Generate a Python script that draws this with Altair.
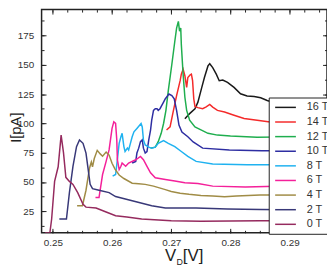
import altair as alt
import pandas as pd

# ---- data (V_D in volts, I in pA) ----
series = ["16 T", "14 T", "12 T", "10 T", "8 T", "6 T", "4 T", "2 T", "0 T"]
colors = ["#1a1a1a", "#f42a2a", "#1fae4e", "#2e2ea2", "#1fb2f0", "#f4209a", "#a08c46", "#383878", "#952a5e"]

v_16 = [0.2723, 0.2731, 0.2740, 0.2745, 0.2751, 0.2756, 0.2762, 0.2765, 0.2770, 0.2776, 0.2781, 0.2787, 0.2795, 0.2806, 0.2817, 0.2828, 0.2840, 0.2851, 0.2862, 0.2878, 0.2895, 0.2910, 0.2920]
i_16 = [104.0, 108.3, 112.5, 118.1, 129.6, 139.1, 149.0, 150.9, 147.6, 142.0, 136.4, 137.0, 134.9, 130.7, 125.2, 123.3, 122.9, 121.8, 119.5, 117.0, 115.0, 114.0, 113.0]

v_14 = [0.2692, 0.2698, 0.2703, 0.2709, 0.2715, 0.2717, 0.2720, 0.2723, 0.2726, 0.2728, 0.2732, 0.2734, 0.2736, 0.2738, 0.2740, 0.2745, 0.2753, 0.2759, 0.2765, 0.2770, 0.2778, 0.2790, 0.2806, 0.2823, 0.2845, 0.2870, 0.2900, 0.2930, 0.2962]
i_14 = [94.3, 97.0, 109.4, 123.7, 136.4, 142.0, 146.2, 140.6, 130.7, 139.1, 141.4, 142.0, 136.4, 121.0, 114.5, 113.4, 112.5, 114.0, 116.2, 113.9, 111.1, 109.7, 106.9, 104.1, 102.7, 101.0, 100.0, 99.0, 98.5]

v_12 = [0.2665, 0.2673, 0.2678, 0.2683, 0.2687, 0.2691, 0.2695, 0.2701, 0.2706, 0.2709, 0.2712, 0.2714, 0.2716, 0.2717, 0.2720, 0.2723, 0.2726, 0.2731, 0.2740, 0.2751, 0.2762, 0.2778, 0.2800, 0.2845, 0.2900, 0.2962]
i_12 = [78.9, 79.7, 84.4, 91.5, 99.9, 111.1, 128.0, 150.4, 170.0, 181.2, 187.0, 178.6, 181.2, 167.3, 142.0, 122.3, 111.1, 102.7, 97.0, 94.3, 91.5, 90.0, 89.2, 88.1, 88.5, 88.4]

v_10 = [0.2634, 0.2640, 0.2642, 0.2645, 0.2648, 0.2651, 0.2653, 0.2656, 0.2659, 0.2662, 0.2665, 0.2667, 0.2670, 0.2673, 0.2676, 0.2678, 0.2681, 0.2684, 0.2687, 0.2690, 0.2692, 0.2696, 0.2701, 0.2705, 0.2709, 0.2713, 0.2718, 0.2728, 0.2737, 0.2753, 0.2798, 0.2853, 0.2962]
i_10 = [66.2, 67.6, 74.7, 78.9, 84.4, 85.9, 78.9, 74.7, 76.0, 85.9, 94.3, 102.7, 111.1, 112.5, 112.5, 111.1, 112.5, 115.3, 118.1, 121.0, 122.3, 125.0, 123.7, 121.0, 111.1, 98.5, 92.6, 88.6, 84.2, 78.9, 77.4, 76.6, 76.6]

v_8 = [0.2601, 0.2606, 0.2609, 0.2612, 0.2615, 0.2617, 0.2620, 0.2622, 0.2626, 0.2628, 0.2631, 0.2634, 0.2637, 0.2642, 0.2649, 0.2651, 0.2653, 0.2656, 0.2662, 0.2667, 0.2673, 0.2678, 0.2687, 0.2695, 0.2706, 0.2717, 0.2728, 0.2742, 0.2770, 0.2828, 0.2895, 0.2962]
i_8 = [55.0, 56.4, 69.0, 83.0, 88.6, 91.5, 80.2, 76.0, 78.9, 77.4, 83.0, 88.6, 92.8, 95.7, 99.9, 97.0, 85.9, 81.6, 79.7, 78.9, 79.7, 83.0, 85.3, 83.0, 80.2, 76.0, 71.8, 67.6, 65.4, 64.8, 64.8, 64.8]

v_6 = [0.2572, 0.2578, 0.2584, 0.2590, 0.2595, 0.2600, 0.2603, 0.2606, 0.2608, 0.2609, 0.2612, 0.2615, 0.2617, 0.2623, 0.2628, 0.2640, 0.2648, 0.2653, 0.2659, 0.2665, 0.2673, 0.2690, 0.2706, 0.2723, 0.2745, 0.2770, 0.2825, 0.2895, 0.2962]
i_6 = [36.8, 36.8, 56.4, 67.6, 77.4, 95.7, 101.3, 100.0, 85.9, 69.0, 60.6, 63.4, 66.2, 63.4, 66.2, 69.0, 71.8, 69.0, 63.4, 57.8, 53.6, 52.2, 50.8, 49.4, 48.8, 46.5, 45.7, 46.7, 46.5]

v_4 = [0.2541, 0.2550, 0.2556, 0.2562, 0.2565, 0.2567, 0.2570, 0.2575, 0.2580, 0.2584, 0.2590, 0.2595, 0.2600, 0.2605, 0.2612, 0.2620, 0.2634, 0.2645, 0.2656, 0.2670, 0.2680, 0.2690, 0.2700, 0.2715, 0.2730, 0.2750, 0.2770, 0.2790, 0.2810, 0.2830, 0.2850, 0.2870, 0.2890, 0.2910, 0.2930, 0.2962]
i_4 = [29.7, 29.8, 43.0, 62.0, 67.0, 63.0, 70.0, 77.0, 74.0, 72.0, 75.5, 73.0, 66.0, 61.0, 56.0, 53.0, 49.0, 48.5, 48.0, 46.5, 45.0, 43.5, 42.0, 40.5, 39.5, 38.5, 38.0, 37.5, 38.0, 38.5, 39.0, 39.0, 39.5, 39.5, 39.0, 38.5]

v_2 = [0.2511, 0.2523, 0.2528, 0.2534, 0.2540, 0.2545, 0.2551, 0.2556, 0.2559, 0.2563, 0.2567, 0.2578, 0.2595, 0.2606, 0.2634, 0.2667, 0.2690, 0.2742, 0.2795, 0.2850, 0.2900, 0.2962]
i_2 = [18.5, 18.5, 41.0, 63.4, 80.2, 85.9, 83.0, 74.7, 63.4, 48.0, 44.4, 43.0, 41.0, 37.6, 34.0, 29.7, 27.8, 27.8, 27.0, 26.5, 26.3, 26.0]

v_0 = [0.2487, 0.2495, 0.2498, 0.2503, 0.2509, 0.2514, 0.2518, 0.2522, 0.2528, 0.2534, 0.2542, 0.2551, 0.2556, 0.2573, 0.2590, 0.2606, 0.2625, 0.2650, 0.2700, 0.2750, 0.2800, 0.2850, 0.2900, 0.2962]
i_0 = [6.7, 6.7, 18.5, 50.5, 63.0, 90.0, 75.0, 54.0, 50.5, 48.0, 41.0, 31.0, 28.6, 27.8, 24.4, 21.3, 20.2, 18.5, 17.0, 16.5, 16.8, 17.0, 17.0, 17.0]

x_major = [0.25, 0.26, 0.27, 0.28, 0.29]
x_minor = [round(0.25 + 0.0025 * k, 4) for k in range(19)]
y_major = [25, 50, 75, 100, 125, 150, 175]
y_minor = [12.5 * k for k in range(1, 16)]

pairs = [(v_16, i_16), (v_14, i_14), (v_12, i_12), (v_10, i_10), (v_8, i_8),
         (v_6, i_6), (v_4, i_4), (v_2, i_2), (v_0, i_0)]
rows = []
for name, (vs, ys) in zip(series, pairs):
    for k, (v, y) in enumerate(zip(vs, ys)):
        rows.append({"V": v, "I": y, "B": name, "k": k})
df = pd.DataFrame(rows)

W, H = 289, 226
FONT = "Liberation Sans"
xs = alt.Scale(domain=[0.2481, 0.2963], nice=False, zero=False)
ys_ = alt.Scale(domain=[6.7, 197.0], nice=False, zero=False)

lines = alt.Chart(df).mark_line(strokeWidth=1.5, clip=True).encode(
    x=alt.X("V:Q", scale=xs, axis=alt.Axis(orient="bottom", values=x_major, format=".2f",
                                           ticks=False, domain=False, grid=False, labelPadding=5,
                                           labelFontSize=10, labelFont=FONT, labelColor="#333", title=None)),
    y=alt.Y("I:Q", scale=ys_, axis=alt.Axis(orient="left", values=y_major, ticks=False, domain=False,
                                            grid=False, labelPadding=8, labelFontSize=10, labelFont=FONT,
                                            labelColor="#333", title="I[pA]", titleFontSize=15,
                                            titleFont=FONT, titleFontWeight="normal", titleColor="#222",
                                            titleX=-26, titleY=119, titleBaseline="middle")),
    color=alt.Color("B:N", scale=alt.Scale(domain=series, range=colors),
                    legend=alt.Legend(orient="none", legendX=230, legendY=89, title=None,
                                      fillColor="white", strokeColor="#222", padding=4.5,
                                      rowPadding=2.8, symbolType="M-3,0H3", symbolSize=49,
                                      symbolOffset=7, labelOffset=16,
                                      symbolStrokeWidth=1.5, labelFontSize=11, labelFont=FONT,
                                      labelColor="#333")),
    order="k:Q",
)


def tick_layer(xorient, xoff, yorient, yoff, xv, yv, size):
    return alt.Chart(df).mark_point(opacity=0).encode(
        x=alt.X("V:Q", scale=xs, axis=alt.Axis(orient=xorient, offset=xoff, values=xv, labels=False,
                                               domain=False, grid=False, tickSize=size, tickColor="#222",
                                               tickWidth=1, title=None)),
        y=alt.Y("I:Q", scale=ys_, axis=alt.Axis(orient=yorient, offset=yoff, values=yv, labels=False,
                                                domain=False, grid=False, tickSize=size, tickColor="#222",
                                                tickWidth=1, title=None)),
    )


t1 = tick_layer("top", -H, "right", -W, x_major, y_major, 4.5)
t2 = tick_layer("top", -H, "right", -W, x_minor, y_minor, 2.5)
t3 = tick_layer("bottom", -H, "left", -W, x_major, y_major, 4.5)
t4 = tick_layer("bottom", -H, "left", -W, x_minor, y_minor, 2.5)

one = alt.Data(values=[{"a": 1}])
tV = alt.Chart(one).mark_text(text="V", fontSize=17, font=FONT, color="#222", align="left",
                              baseline="alphabetic").encode(x=alt.value(125), y=alt.value(255))
tD = alt.Chart(one).mark_text(text="D", fontSize=9, font=FONT, color="#222", align="left",
                              baseline="alphabetic").encode(x=alt.value(136.5), y=alt.value(259))
tB = alt.Chart(one).mark_text(text="[V]", fontSize=17, font=FONT, color="#222", align="left",
                              baseline="alphabetic").encode(x=alt.value(143), y=alt.value(255))

chart = alt.layer(lines, t1, t2, t3, t4, tV, tD, tB).resolve_axis(
    x="independent", y="independent"
).properties(
    width=W, height=H,
    autosize=alt.AutoSizeParams(type="none"),
    padding={"left": 34, "top": 0, "right": 0, "bottom": 34},
).configure_view(stroke="#222", strokeWidth=1.5)

chart.save("out.html", embed_options={"renderer": "svg", "actions": False})
